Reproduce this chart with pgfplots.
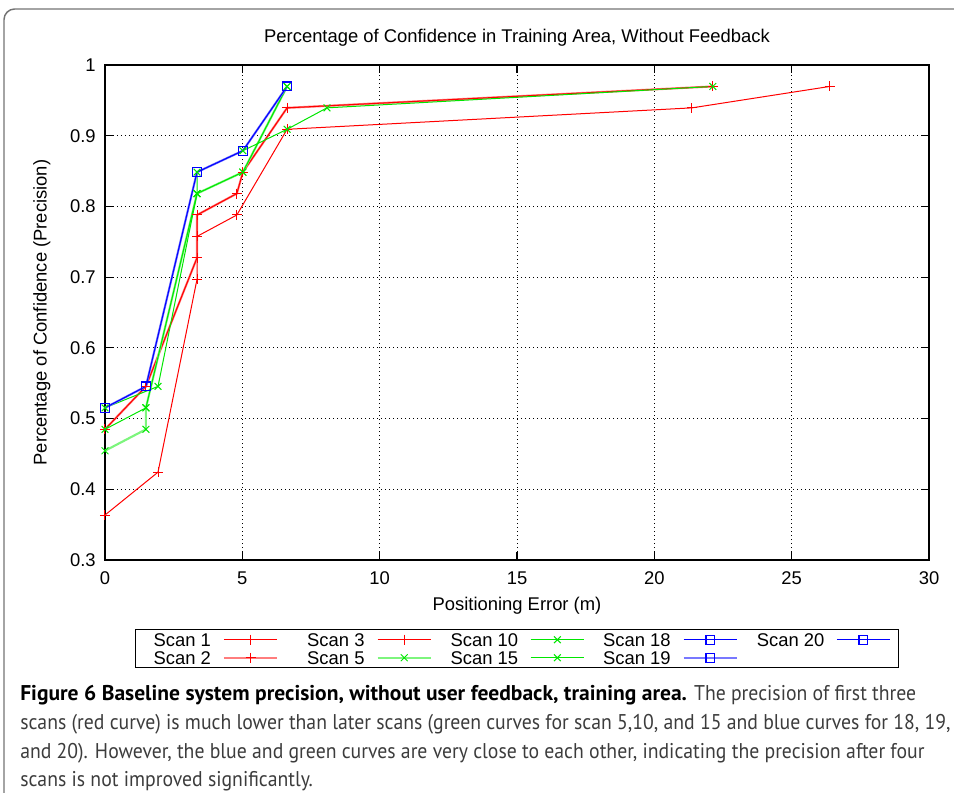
\documentclass[border=0pt]{standalone}
\usepackage{pgfplots}
\pgfplotsset{compat=1.18}
\usepackage{fontspec}
\setmainfont{Liberation Sans}
\newfontfamily\capfont[FakeStretch=0.925, BoldFeatures={FakeStretch=1.01}]{PT Sans}
\definecolor{capgray}{RGB}{60,60,60}
\definecolor{gred}{RGB}{255,0,0}
\definecolor{lred}{RGB}{255,125,125}
\definecolor{ggreen}{RGB}{0,230,0}
\definecolor{lgreen}{RGB}{125,245,125}
\definecolor{gblue}{RGB}{0,0,255}
\definecolor{lblue}{RGB}{120,120,255}
\newcommand{\chartfont}{\fontsize{13.8}{16}\selectfont}
\begin{document}
\begin{tikzpicture}
\useasboundingbox (0,0) rectangle (715.5pt,-594.75pt);
\begin{scope}[x=0.75pt,y=-0.75pt]
  \clip (0,0) rectangle (954,793);
  \draw[black!55, line width=1.1pt, rounded corners=8pt] (4,9) rectangle (1000,840);
  \begin{scope}[every node/.style={anchor=base west, inner sep=0pt, font=\capfont\fontsize{16}{18}\selectfont, text=capgray}]
    \node at (20,700) {\textcolor{black}{\bfseries Figure 6 Baseline system precision, without user feedback, training area.} The precision of first three};
    \node at (20,729) {scans (red curve) is much lower than later scans (green curves for scan 5,10, and 15 and blue curves for 18, 19,};
    \node at (20,758) {and 20). However, the blue and green curves are very close to each other, indicating the precision after four};
    \node at (20,786) {scans is not improved significantly.};
  \end{scope}
\end{scope}
\begin{axis}[
  at={(78.75pt,-420pt)}, anchor=south west,
  scale only axis, width=618pt, height=371.25pt,
  xmin=0, xmax=30, ymin=0.3, ymax=1,
  xtick={0,5,10,15,20,25,30},
  ytick={0.3,0.4,0.5,0.6,0.7,0.8,0.9,1},
  grid=major,
  major grid style={black, line width=0.6pt, dash pattern=on 0.6pt off 2.4pt},
  axis line style={black, line width=1.1pt},
  tick align=inside, major tick length=6pt,
  tick style={black, line width=0.8pt},
  tick label style={font=\chartfont},
  xticklabel style={yshift=-5.5pt},
  yticklabel style={xshift=-3.5pt},
  /pgf/number format/assume math mode=true,
  every axis title/.style={at={(axis description cs:0.5,1)}, anchor=center, yshift=20.5pt, font=\chartfont},
  every axis x label/.style={at={(axis description cs:0.5,0)}, anchor=center, yshift=-34.5pt, font=\chartfont},
  every axis y label/.style={at={(axis description cs:-0.0765,0.5)}, anchor=center, rotate=90, font=\chartfont},
  title={Percentage of Confidence in Training Area, Without Feedback},
  xlabel={Positioning Error (m)},
  ylabel={Percentage of Confidence (Precision)},
  legend columns=5, legend plot pos=right, legend cell align=right,
  legend style={at={(axis description cs:0.5,0)}, anchor=north, yshift=-51.75pt,
    font=\chartfont, inner xsep=6pt, inner ysep=0.75pt,
    nodes={inner xsep=0pt, inner ysep=2pt, text height=9.5pt, text depth=0pt},
    /tikz/every odd column/.append style={column sep=9pt},
    /tikz/every even column/.append style={column sep=14pt}},
  every axis legend/.append style={draw=black, line width=1.1pt},
  legend image code/.code={\draw[mark repeat=2,mark phase=2] plot coordinates {(0pt,0pt) (20pt,0pt) (40pt,0pt)};},
  thin1/.style={line width=0.75pt},
  thick1/.style={line width=1.6pt},
  pmark/.style={mark=+, mark size=3.75pt, mark options={solid, line width=0.75pt, draw=gred}},
  xmark/.style={mark=x, mark size=3.6pt, mark options={solid, line width=0.75pt, draw=ggreen}},
  smark/.style={mark=square, mark size=3.3pt, mark options={solid, line width=0.9pt, draw=gblue}},
]
% Scan 1
\addplot[forget plot, draw=gred, thin1, pmark] coordinates {
  (0,0.3636) (1.93,0.4242) (3.35,0.6970) (3.35,0.7273) (3.35,0.7576) (4.8,0.7879) (6.63,0.9091) (21.37,0.9394) (26.39,0.9697)};
% Scan 2
\addplot[forget plot, draw=lred, thick1, pmark] coordinates {
  (0,0.4848) (1.49,0.5455) (3.35,0.7273) (3.35,0.7879) (4.8,0.8182) (5.02,0.8485) (6.63,0.9394) (22.13,0.9697)};
% Scan 3
\addplot[forget plot, draw=gred, thin1, pmark] coordinates {
  (0,0.4848) (1.49,0.5455) (3.35,0.7273) (3.35,0.7576) (3.35,0.7879) (4.8,0.8182) (5.02,0.8485) (6.63,0.9394) (22.13,0.9697)};
% Scan 5
\addplot[forget plot, draw=lgreen, thick1, xmark] coordinates {
  (0,0.4545) (1.49,0.4848) (1.49,0.5152) (3.35,0.8182) (5.02,0.8485) (6.63,0.9697)};
% Scan 10
\addplot[forget plot, draw=ggreen, thin1, xmark] coordinates {
  (0,0.4848) (1.49,0.5152) (3.35,0.8182) (5.02,0.8485) (6.63,0.9697)};
% Scan 15
\addplot[forget plot, draw=ggreen, thin1, xmark] coordinates {
  (0,0.5152) (1.93,0.5455) (3.35,0.8182) (3.35,0.8485) (5.02,0.8788) (6.63,0.9091) (8.08,0.9394) (22.13,0.9697)};
% Scan 18
\addplot[forget plot, draw=gblue, thin1, smark] coordinates {
  (0,0.5152) (1.49,0.5455) (3.35,0.8485) (5.02,0.8788) (6.63,0.9697)};
% Scan 19
\addplot[forget plot, draw=lblue, thick1, smark] coordinates {
  (0,0.5152) (1.49,0.5455) (3.35,0.8485) (5.02,0.8788) (6.63,0.9697)};
% Scan 20
\addplot[forget plot, draw=gblue, thin1, smark] coordinates {
  (0,0.5152) (1.49,0.5455) (3.35,0.8485) (5.02,0.8788) (6.63,0.9697)};
% legend, gnuplot order (column-wise); phantom digit keeps columns equal
\addlegendimage{draw=gred, thin1, pmark}\addlegendentry{\phantom{0}Scan 1}
\addlegendimage{draw=gred, thin1, pmark}\addlegendentry{\phantom{0}Scan 3}
\addlegendimage{draw=ggreen, thin1, xmark}\addlegendentry{Scan 10}
\addlegendimage{draw=gblue, thin1, smark}\addlegendentry{Scan 18}
\addlegendimage{draw=gblue, thin1, smark}\addlegendentry{Scan 20}
\addlegendimage{draw=lred, thick1, pmark}\addlegendentry{\phantom{0}Scan 2}
\addlegendimage{draw=lgreen, thick1, xmark}\addlegendentry{\phantom{0}Scan 5}
\addlegendimage{draw=ggreen, thin1, xmark}\addlegendentry{Scan 15}
\addlegendimage{draw=lblue, thick1, smark}\addlegendentry{Scan 19}
\end{axis}
\end{tikzpicture}
\end{document}
